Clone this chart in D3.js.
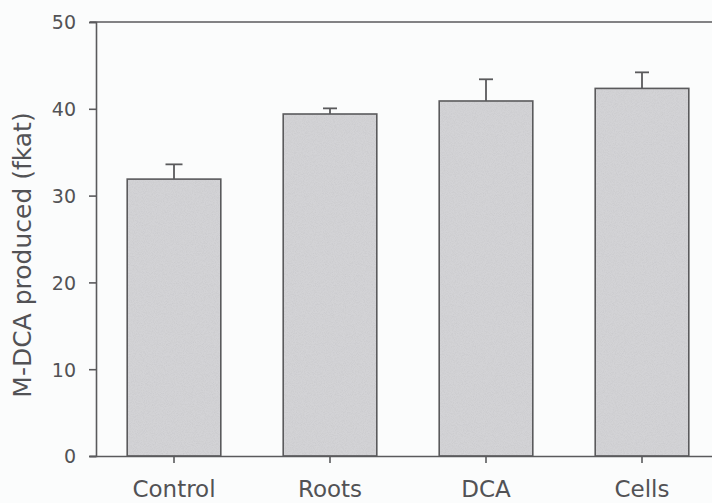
<!DOCTYPE html>
<html>
<head>
<meta charset="utf-8">
<script src="https://cdn.jsdelivr.net/npm/d3@7"></script>
<style>
  body { margin: 0; background: #fbfcfc; }
  svg { display: block; font-family: "DejaVu Sans", sans-serif; }
</style>
</head>
<body>
<script>
'use strict';

// values
const categories = ["Control", "Roots", "DCA", "Cells"];
const means = [31.9, 39.4, 40.9, 42.35];
const errors = [1.7, 0.65, 2.5, 1.85];
const yTicks = [0, 10, 20, 30, 40, 50];

const width = 712, height = 503;
const axisColor = "#5a5a5c";
const textColor = "#525255";

let svg = d3.select("body").append("svg")
  .attr("width", width)
  .attr("height", height);

// subtle speckle for the bar fill
let defs = svg.append("defs");
let filt = defs.append("filter").attr("id", "speckle")
  .attr("x", 0).attr("y", 0).attr("width", 1).attr("height", 1);
filt.append("feTurbulence")
  .attr("type", "fractalNoise")
  .attr("baseFrequency", 1.1)
  .attr("numOctaves", 2)
  .attr("seed", 3)
  .attr("result", "noise");
filt.append("feColorMatrix")
  .attr("in", "noise")
  .attr("type", "matrix")
  .attr("values", "0 0 0 0 0.6  0 0 0 0 0.6  0 0 0 0 0.62  0 0 0 -2.2 1.35")
  .attr("result", "dots");
filt.append("feComposite")
  .attr("in", "dots").attr("in2", "SourceGraphic").attr("operator", "in")
  .attr("result", "dotsIn");
filt.append("feMerge").selectAll("feMergeNode")
  .data(["SourceGraphic", "dotsIn"]).enter()
  .append("feMergeNode").attr("in", d => d);

// scales
let x = d3.scaleBand()
  .domain(categories)
  .range([96, 720])
  .paddingInner(0.4)
  .paddingOuter(0.2);

let y = d3.scaleLinear()
  .domain([0, 50])
  .range([456, 22]);

// bar fill (speckled), then outline on top
svg.selectAll(".bar")
  .data(categories)
  .enter()
  .append("rect")
    .attr("class", "bar")
    .attr("x", d => x(d))
    .attr("width", x.bandwidth())
    .attr("y", (d, i) => y(means[i]))
    .attr("height", (d, i) => y(0) - y(means[i]))
    .attr("fill", "#d3d3d6")
    .attr("filter", "url(#speckle)");

svg.selectAll(".bar-outline")
  .data(categories)
  .enter()
  .append("rect")
    .attr("class", "bar-outline")
    .attr("x", d => x(d))
    .attr("width", x.bandwidth())
    .attr("y", (d, i) => y(means[i]))
    .attr("height", (d, i) => y(0) - y(means[i]))
    .attr("fill", "none")
    .attr("stroke", axisColor)
    .attr("stroke-width", 1.6);

// error bars (upper only)
let capW = 14;
categories.forEach(function(c, i) {
  let cx = x(c) + x.bandwidth() / 2;
  svg.append("line")
    .attr("x1", cx).attr("x2", cx)
    .attr("y1", y(means[i])).attr("y2", y(means[i] + errors[i]))
    .attr("stroke", axisColor).attr("stroke-width", 1.8);
  svg.append("line")
    .attr("x1", cx - capW / 2 - (i === 0 ? 1.5 : 0)).attr("x2", cx + capW / 2 + (i === 0 ? 1.5 : 0))
    .attr("y1", y(means[i] + errors[i])).attr("y2", y(means[i] + errors[i]))
    .attr("stroke", axisColor).attr("stroke-width", 1.8);
});

// y axis
let yAxis = d3.axisLeft(y).tickValues(yTicks).tickSize(7).tickPadding(13);
let yG = svg.append("g")
  .attr("transform", "translate(96,0)")
  .call(yAxis);

// x axis
let xAxis = d3.axisBottom(x).tickSize(7).tickPadding(6);
let xG = svg.append("g")
  .attr("transform", "translate(0,456)")
  .call(xAxis);
xG.select(".domain").attr("d", "M90,0.5H720");

// top frame line
svg.append("line")
  .attr("x1", 90).attr("x2", 720)
  .attr("y1", y(50)).attr("y2", y(50))
  .attr("stroke", axisColor).attr("stroke-width", 1.6);

[yG, xG].forEach(function(g) {
  g.select(".domain").attr("stroke", axisColor).attr("stroke-width", 1.6);
  g.selectAll(".tick line").attr("stroke", axisColor).attr("stroke-width", 1.6);
  g.selectAll(".tick text")
    .attr("fill", textColor)
    .style("font-family", "'DejaVu Sans', sans-serif")
    .style("font-size", "19px");
});
xG.selectAll(".tick text").style("font-size", "23px").attr("y", 0).attr("dy", 0)
  .attr("transform", "translate(0,41)");
yG.selectAll(".tick text").attr("dy", "0.36em");

// y axis title
svg.append("text")
  .attr("transform", "translate(31,255)rotate(-90)")
  .attr("text-anchor", "middle")
  .attr("fill", textColor)
  .style("font-size", "25px")
  .text("M-DCA produced (fkat)");
</script>
</body>
</html>
